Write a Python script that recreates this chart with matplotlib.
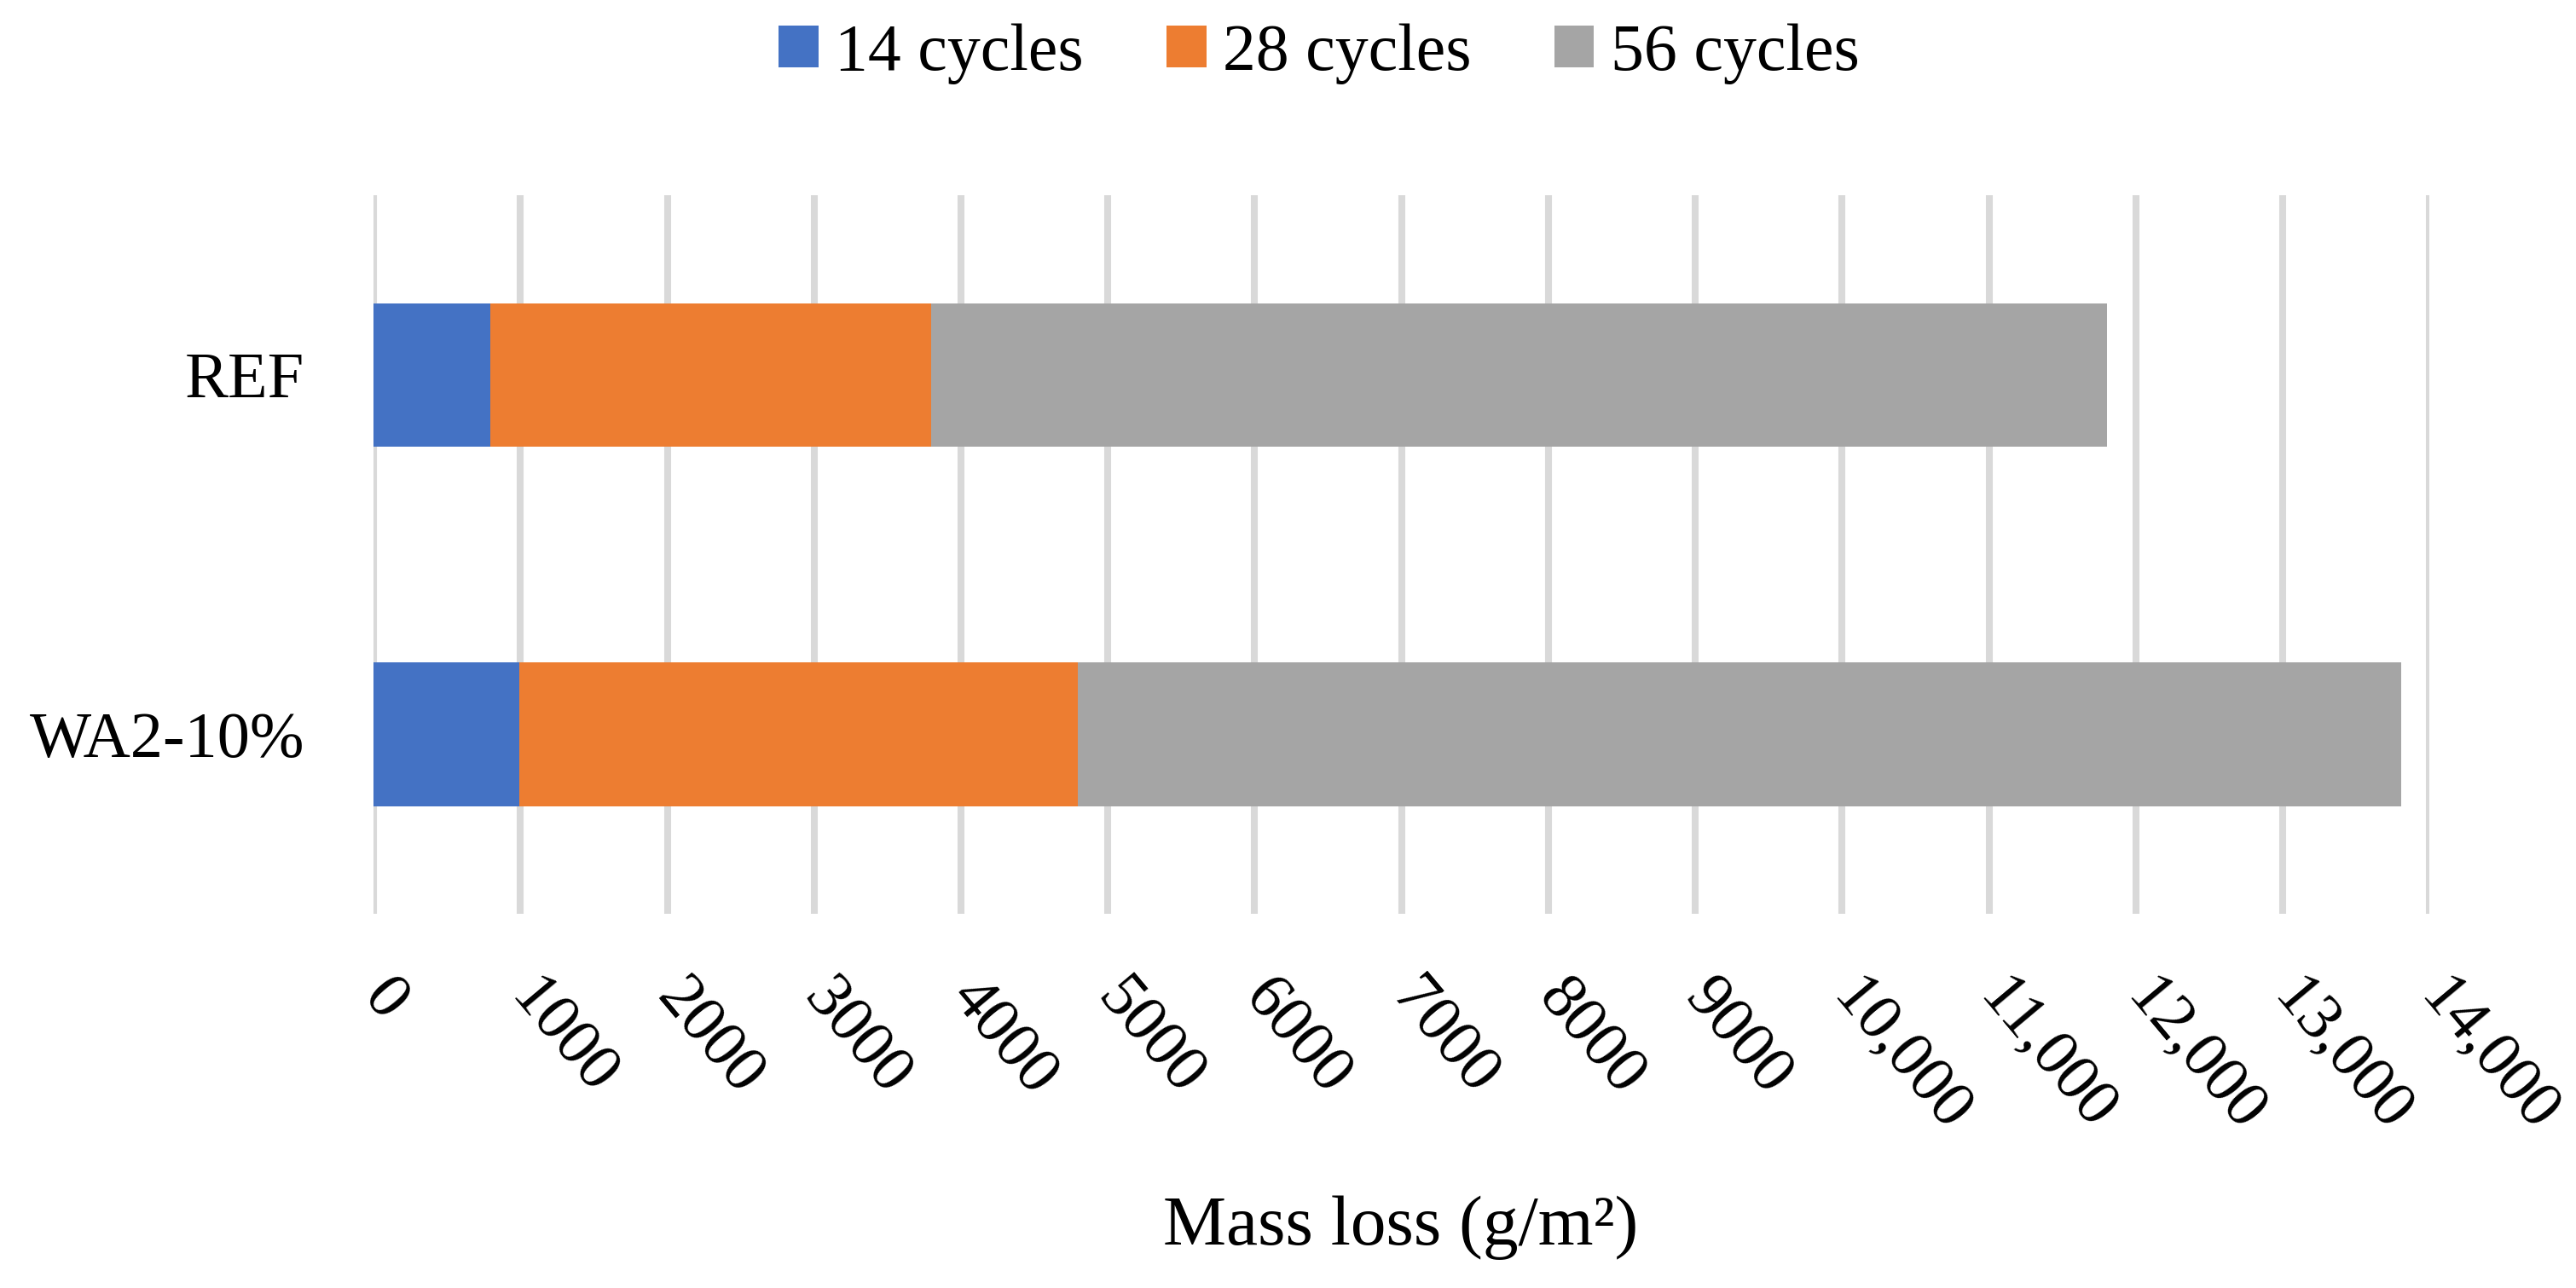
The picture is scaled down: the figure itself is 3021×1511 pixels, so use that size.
import numpy as np
import matplotlib
matplotlib.use('Agg')
import matplotlib.pyplot as plt

# data (segment values, g/m2)
samples = ['REF', 'WA2-10%']
cyc14 = [795, 993]
cyc28 = [3002, 3802]
cyc56 = [8006, 9011]
series_names = ['14 cycles', '28 cycles', '56 cycles']
colors = ['#4472C4', '#ED7D31', '#A5A5A5']
xticks = list(range(0, 15000, 1000))
xtick_labels = ['0', '1000', '2000', '3000', '4000', '5000', '6000', '7000',
                '8000', '9000', '10,000', '11,000', '12,000', '13,000', '14,000']

plt.rcParams['font.family'] = ['Liberation Serif', 'DejaVu Serif']

fig = plt.figure(figsize=(30.21, 15.11), dpi=100)
ax = fig.add_axes([0.1450, 0.2905, 0.7982, 0.5579])

y = np.arange(len(samples))
left = np.zeros(len(samples))
for vals, name, col in zip([cyc14, cyc28, cyc56], series_names, colors):
    ax.barh(y, vals, left=left, height=0.4, color=col, label=name, zorder=3)
    left = left + np.array(vals)

ax.set_xlim(0, 14000)
ax.set_ylim(-0.5, 1.5)
ax.invert_yaxis()
ax.set_yticks(y)
ax.set_yticklabels(samples)
ax.set_xticks(xticks)
ax.set_xticklabels(xtick_labels)
ax.tick_params(axis='y', length=0, pad=58, labelsize=55)
ax.tick_params(axis='x', length=0, pad=62, labelsize=55)
plt.setp(ax.get_xticklabels(), rotation=-50, ha='left', va='center',
         rotation_mode='anchor')

ax.grid(axis='x', color='#D9D9D9', linewidth=5.8, zorder=0)
ax.grid(axis='y', visible=False)
for s in ax.spines.values():
    s.set_visible(False)

fig.text(0.5439, 0.0338, 'Mass loss (g/m²)', ha='center', va='baseline', fontsize=60)

fig.legend(loc='center', bbox_to_anchor=(0.512, 0.958), ncol=3, frameon=False,
           fontsize=56, handlelength=0.6, handleheight=0.6, handletextpad=0.25,
           columnspacing=1.25, borderpad=0)

fig.savefig('out.png', dpi=100)
